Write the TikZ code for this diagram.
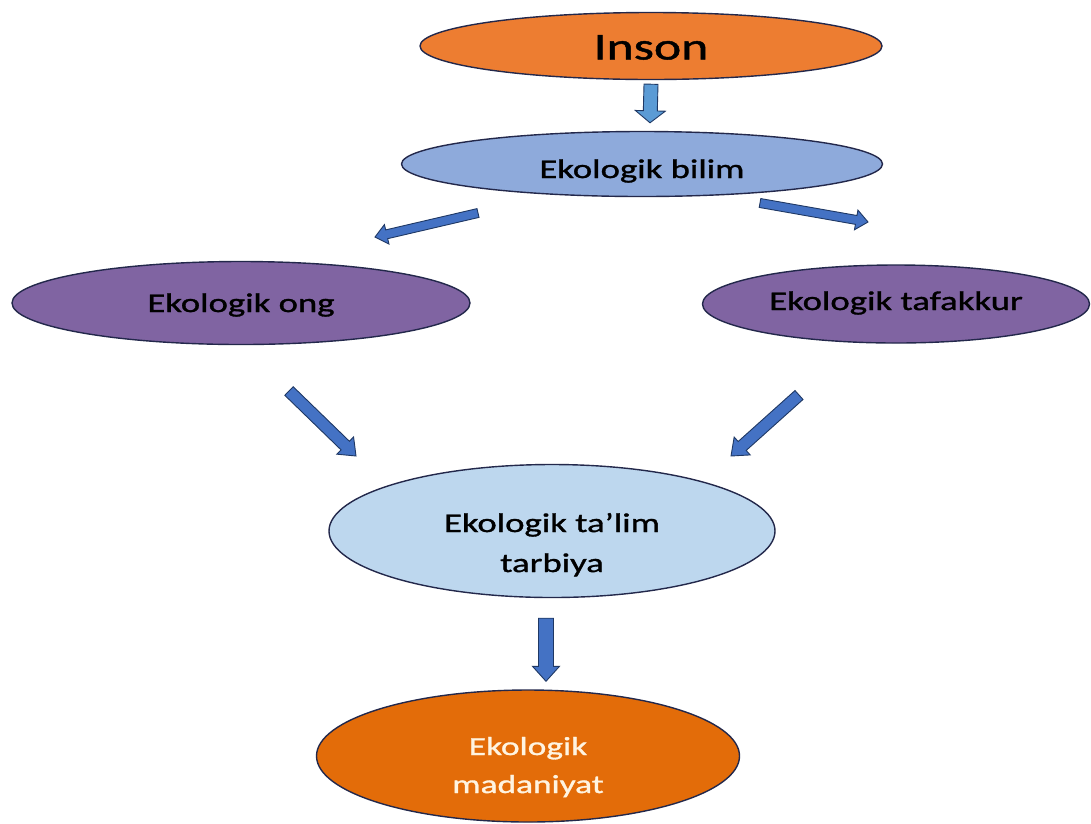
\documentclass[tikz,border=0pt]{standalone}
\usepackage{fontspec}
\setmainfont{Carlito}[FakeStretch=1.36, FakeBold=1.2]
\usepackage{xcolor}
\usepackage{tikz}
\usetikzlibrary{positioning, calc, shapes.geometric}
\definecolor{insoncolor}{RGB}{237, 125, 49}
\definecolor{bilimcolor}{RGB}{142, 170, 219}
\definecolor{ongcolor}{RGB}{128, 100, 162}
\definecolor{talimcolor}{RGB}{189, 215, 238}
\definecolor{madaniyatcolor}{RGB}{227, 108, 9}
\definecolor{edgecolor}{RGB}{35, 40, 75}
\definecolor{arrowlight}{RGB}{91, 155, 213}
\definecolor{arrowdark}{RGB}{68, 114, 196}
\definecolor{arrowedge}{RGB}{31, 56, 100}
\definecolor{creamtext}{RGB}{255, 244, 225}

\newcommand{\blockarrow}[6]{%
  \coordinate (hb) at ($(#3)!#6!(#2)$);
  \draw[arrowshape, fill=#1] ($(#2)!#4!90:(#3)$) -- ($(hb)!#4!90:(#3)$) -- ($(hb)!#5!90:(#3)$)
    -- (#3) -- ($(hb)!#5!-90:(#3)$) -- ($(hb)!#4!-90:(#3)$) -- ($(#2)!#4!-90:(#3)$) -- cycle;
}

\begin{document}
\begin{tikzpicture}[
  x=1pt, y=-1pt,
  font=\fontsize{27}{40}\selectfont,
  oval/.style={ellipse, draw=edgecolor, line width=1.4pt, inner sep=0pt, text depth=0pt},
  arrowshape/.style={draw=arrowedge, line width=0.9pt, line join=miter}
]
\useasboundingbox (0,0) rectangle (1091,823);

\node[oval, fill=insoncolor, minimum width=462, minimum height=67, text height=27pt, font=\fontsize{38}{40}\selectfont] (inson) at (651,46) {Inson};
\node[oval, fill=bilimcolor, minimum width=481, minimum height=65, text height=28pt] (bilim) at (642,164) {Ekologik bilim};
\node[oval, fill=ongcolor, minimum width=458, minimum height=83, text height=18pt] (ong) at (241,303) {Ekologik ong};
\node[oval, fill=ongcolor, minimum width=387, minimum height=78, text height=12pt] (tafakkur) at (896,304) {Ekologik tafakkur};
\node[oval, fill=talimcolor, minimum width=446, minimum height=133, text height=2pt] (talim) at (552,531) {\begin{tabular}[t]{@{}c@{}}Ekologik ta’lim\\tarbiya\end{tabular}};
\node[oval, fill=madaniyatcolor, minimum width=423, minimum height=132, text height=0pt, text depth=2pt, text=creamtext, font=\fontsize{26}{38}\selectfont] (madaniyat) at (528,756) {\begin{tabular}[t]{@{}c@{}}Ekologik\\madaniyat\end{tabular}};

\coordinate (a1) at ($(inson.south)+(0,4)$);
\coordinate (b1) at ($(bilim.north)+(8,-8)$);
\coordinate (a2) at ($(bilim)+(-164,49)$);
\coordinate (b2) at ($(ong)+(134,-66)$);
\coordinate (a3) at ($(bilim)+(118,39)$);
\coordinate (b3) at ($(tafakkur)+(-28,-82)$);
\coordinate (a4) at ($(ong)+(48,88)$);
\coordinate (b4) at ($(talim)+(-196,-75)$);
\coordinate (a5) at ($(tafakkur)+(-97,91)$);
\coordinate (b5) at ($(talim)+(179,-75)$);
\coordinate (a6) at ($(talim.south)+(-6,20)$);
\coordinate (b6) at ($(madaniyat.north)+(18,-8)$);

\blockarrow{arrowlight}{a1}{b1}{7pt}{15pt}{12pt}
\blockarrow{arrowdark}{a2}{b2}{4.5pt}{10pt}{12pt}
\blockarrow{arrowdark}{a3}{b3}{4.5pt}{10pt}{12pt}
\blockarrow{arrowdark}{a4}{b4}{6pt}{12pt}{15pt}
\blockarrow{arrowdark}{a5}{b5}{6pt}{12pt}{15pt}
\blockarrow{arrowdark}{a6}{b6}{7.5pt}{13.5pt}{15pt}
\end{tikzpicture}
\end{document}
